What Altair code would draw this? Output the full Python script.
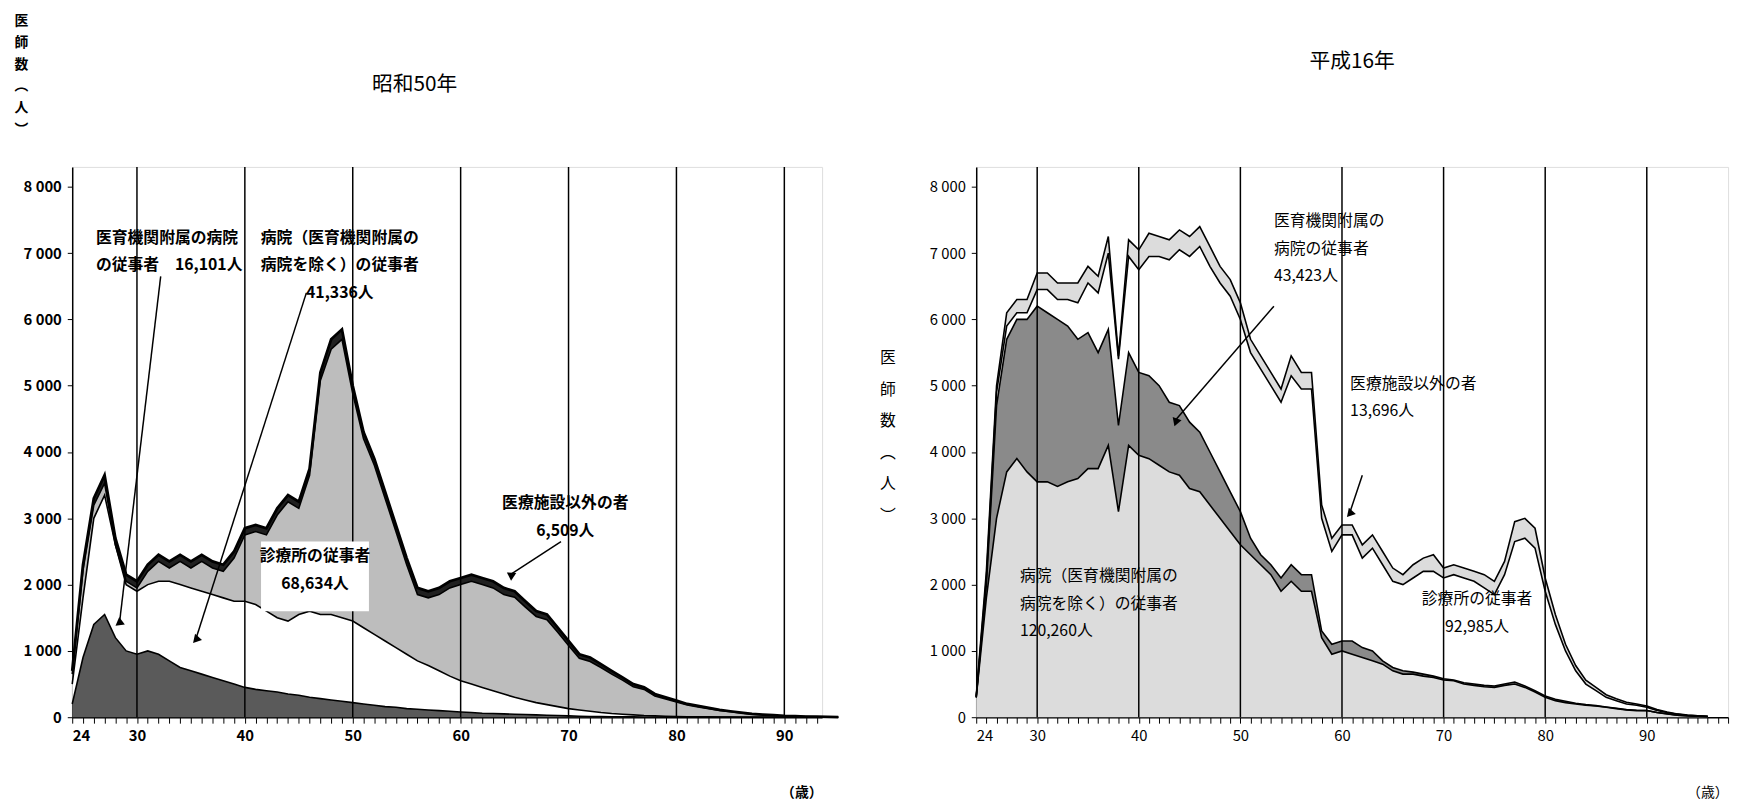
import math
import altair as alt
import pandas as pd

FONT = "Noto Sans CJK JP"

# ---------------- 昭和50年 (ages 24..95) ----------------
L_ages = list(range(24, 96))
L_ikyoku_top = [200,900,1400,1550,1200,1000,950,
    1000,950,850,750,700,650,600,550,500,450,
    420,400,380,350,330,300,280,260,240,220,
    200,180,160,150,130,120,110,100,90,80,
    70,60,55,50,45,40,35,30,25,20,
    15,12,10,8,6,5,4,3,2,2,
    1,1,1,1,1,0,0,0,0,0,0,0,0,0,0]
L_byoin_top = [500,1800,3000,3350,2600,2000,1900,
    2000,2050,2050,2000,1950,1900,1850,1800,1750,1750,
    1700,1600,1500,1450,1550,1600,1550,1550,1500,1450,
    1350,1250,1150,1050,950,850,780,700,620,550,
    500,450,400,350,300,260,220,190,160,130,
    110,90,70,55,45,35,25,20,15,10,
    8,6,5,4,3,2,2,1,1,1,0,0,0,0,0]
L_total = [700,2300,3300,3650,2700,2150,2050,
    2300,2450,2350,2450,2350,2450,2350,2300,2500,2850,
    2900,2850,3150,3350,3250,3750,5200,5700,5850,5000,
    4300,3900,3400,2900,2400,1950,1900,1950,2050,2100,
    2150,2100,2050,1950,1900,1750,1600,1550,1350,1150,
    950,900,800,700,600,500,450,350,300,250,
    200,170,140,110,90,70,50,40,30,20,15,10,8,5,3]
L_igai = [50,80,100,120,100,100,100,
    100,100,100,100,100,100,100,100,100,100,
    100,100,100,100,100,100,120,150,150,120,
    100,100,100,100,100,100,100,100,100,100,
    100,100,100,100,90,90,80,80,70,70,
    60,60,50,50,40,40,30,30,25,20,
    15,15,12,10,8,6,5,4,3,2,2,1,1,0,0]

# ---------------- 平成16年 (ages 24..96) ----------------
R_ages = list(range(24, 97))
R_byoin_top = [300,1800,3000,3700,3900,3700,3550,
    3550,3480,3550,3600,3750,3750,4100,3100,4100,3950,
    3900,3800,3700,3650,3450,3400,3200,3000,2800,2600,
    2450,2300,2150,1900,2050,1900,1900,1200,950,1000,
    950,900,850,800,700,650,650,620,600,560,
    550,500,480,460,450,480,500,450,380,300,
    250,220,200,180,170,150,130,110,100,100,
    70,50,30,20,15,10]
R_ikyoku_top = [300,2000,4700,5700,6000,6000,6200,
    6100,6000,5900,5700,5800,5500,5850,4400,5500,5200,
    5150,5000,4750,4700,4450,4300,4000,3700,3400,3100,
    2700,2450,2300,2100,2300,2150,2150,1300,1100,1150,
    1150,1050,1000,850,750,700,680,650,620,580,
    560,520,500,480,470,500,530,470,400,320,
    270,240,210,190,175,155,135,115,105,102,
    72,52,31,21,15,10]
R_shinryo_top = [300,2100,4900,5900,6100,6100,6450,
    6450,6300,6300,6250,6550,6400,7000,5400,6950,6750,
    6950,6950,6900,7050,6950,7100,6800,6550,6350,6000,
    5500,5250,5000,4750,5150,4950,4950,3000,2500,2750,
    2750,2400,2550,2300,2050,2000,2100,2200,2200,2100,
    2150,2100,2050,1950,1850,2150,2650,2700,2550,1900,
    1400,1000,700,500,400,300,250,200,180,150,
    100,70,45,30,20,12]
R_total = [320,2200,5000,6100,6300,6300,6700,
    6700,6550,6550,6550,6800,6650,7250,5450,7200,7050,
    7300,7250,7200,7350,7250,7400,7100,6800,6600,6250,
    5700,5450,5200,4950,5450,5200,5200,3200,2700,2900,
    2900,2600,2750,2500,2250,2150,2300,2400,2450,2250,
    2300,2250,2200,2150,2050,2350,2950,3000,2850,2100,
    1550,1100,780,560,450,340,280,225,200,170,
    115,80,50,34,23,14]

YMAX = 8300
VERT = ["医", "師", "数", "︵", "人", "︶"]


def make_panel(ages, bounds, fills, xmax, title, title_kw, ytitle_kw, texts, arrows,
               boxes, width, height, topw, bold):
    df = pd.DataFrame({"age": ages})
    for i, b in enumerate(bounds):
        df[f"b{i+1}"] = b
    df["b0"] = 0
    lw = "bold" if bold else "normal"
    xs = alt.Scale(domain=[24, xmax], nice=False, zero=False)
    ys = alt.Scale(domain=[0, YMAX], nice=False)
    xaxis = alt.Axis(values=list(range(24, int(xmax) + 1)),
                     labelExpr="(datum.value == 24 || datum.value % 10 == 0) ? datum.value : ''",
                     grid=False, tickSize=6, tickColor="black", domainColor="black", domainWidth=1.5,
                     labelFont=FONT, labelFontSize=15, labelColor="black", labelFontWeight=lw,
                     labelPadding=6,
                     title="（歳）", titleAnchor="end", titleFont=FONT, titleFontSize=14,
                     titlePadding=42, titleFontWeight=lw, titleColor="black")
    yaxis = alt.Axis(values=list(range(0, 8001, 1000)),
                     labelExpr="replace(format(datum.value, ','), ',', ' ')", grid=False,
                     tickSize=5, tickColor="black", domainColor="black", domainWidth=1.5,
                     labelFont=FONT, labelFontSize=15, labelColor="black", labelFontWeight=lw,
                     labelPadding=6, titleColor="black", **ytitle_kw)

    def X(f):
        return alt.X(f"{f}:Q", scale=xs, axis=xaxis)

    def Y(f):
        return alt.Y(f"{f}:Q", scale=ys, axis=yaxis)

    base = alt.Chart(df)
    layers = []
    for i, col in enumerate(fills):
        layers.append(base.mark_area(color=col, opacity=1).encode(
            x=X("age"), y=Y(f"b{i}"), y2=f"b{i+1}:Q"))
    for i in range(1, len(bounds) + 1):
        sw = topw if i == len(bounds) else 1.6
        layers.append(base.mark_line(color="black", strokeWidth=sw).encode(
            x=X("age"), y=Y(f"b{i}")))
    dec = pd.DataFrame({"age": [a for a in range(30, int(xmax) + 1, 10)]})
    layers.append(alt.Chart(dec).mark_rule(color="black", strokeWidth=1.5).encode(
        x=X("age"), y=alt.value(0), y2=alt.value(height)))
    if boxes:
        bdf = pd.DataFrame(boxes, columns=["x", "x2", "y", "y2"])
        layers.append(alt.Chart(bdf).mark_rect(color="white").encode(
            x=X("x"), x2="x2:Q", y=Y("y"), y2="y2:Q"))
    adf = pd.DataFrame(arrows, columns=["x", "y", "x2", "y2"])
    # arrowhead rotation (pixel space)
    pxx = width / (xmax - 24)
    pxy = height / YMAX
    adf["ang"] = [math.degrees(math.atan2((r.x2 - r.x) * pxx, -(r.y2 - r.y) * pxy)) % 360
                  for r in adf.itertuples()]
    layers.append(alt.Chart(adf).mark_rule(color="black", strokeWidth=1.5).encode(
        x=X("x"), y=Y("y"), x2="x2:Q", y2="y2:Q"))
    layers.append(alt.Chart(adf).mark_point(shape="triangle-up", filled=True, color="black",
                                            size=90, opacity=1).encode(
        x=X("x2"), y=Y("y2"), angle=alt.Angle("ang:Q", scale=None)))
    for (x, y, lines, align) in texts:
        tdf = pd.DataFrame({"x": [x], "y": [y]})
        layers.append(alt.Chart(tdf).mark_text(font=FONT, fontSize=16, align=align, baseline="top",
                                               lineHeight=28, color="black", fontWeight=lw).encode(
            x=X("x"), y=Y("y"), text=alt.value(lines)))
    return alt.layer(*layers).properties(
        width=width, height=height,
        title=alt.TitleParams(title, font=FONT, fontSize=21, fontWeight="normal", **title_kw))


left = make_panel(
    L_ages,
    [L_ikyoku_top, L_byoin_top, [t - g for t, g in zip(L_total, L_igai)], L_total],
    ["#5a5a5a", "#ffffff", "#bdbdbd", "#202020"],
    93.5, "昭和50年", dict(offset=-82, dx=-33),
    dict(title=VERT, titleAngle=0, titleX=-52, titleY=-155,
         titleFont=FONT, titleFontSize=14, titleFontWeight="bold", titleAlign="center",
         titleBaseline="top", titleLineHeight=22),
    [(26.2, 7350, ["医育機関附属の病院", "の従事者　16,101人"], "left"),
     (48.8, 7350, ["病院（医育機関附属の", "病院を除く）の従事者", "41,336人"], "center"),
     (46.5, 2550, ["診療所の従事者", "68,634人"], "center"),
     (69.7, 3350, ["医療施設以外の者", "6,509人"], "center")],
    [(32.2, 6650, 28.4, 1450), (45.7, 6400, 35.5, 1200), (69.3, 2650, 64.6, 2150)],
    [(41.5, 51.5, 1600, 2650)],
    759, 557, 2.8, True)

right = make_panel(
    R_ages,
    [R_byoin_top, R_ikyoku_top, R_shinryo_top, R_total],
    ["#dcdcdc", "#8a8a8a", "#ffffff", "#dcdcdc"],
    98, "平成16年", dict(offset=95),
    dict(title=VERT, titleAngle=0, titleX=-90, titleY=185,
         titleFont=FONT, titleFontSize=16, titleFontWeight="normal", titleAlign="center",
         titleBaseline="top", titleLineHeight=32),
    [(53.3, 7600, ["医育機関附属の", "病院の従事者", "43,423人"], "left"),
     (60.8, 5150, ["医療施設以外の者", "　13,696人"], "left"),
     (73.3, 1900, ["診療所の従事者", "92,985人"], "center"),
     (28.3, 2250, ["病院（医育機関附属の", "病院を除く）の従事者", "120,260人"], "left")],
    [(53.3, 6200, 43.6, 4480), (62.0, 3650, 60.8, 3100)],
    [],
    761, 557, 1.6, False)

chart = alt.hconcat(left, right, spacing=34).configure_view(stroke=None).configure(
    background="white", padding={"left": 5, "top": 0, "right": 5, "bottom": 0})

chart.save("out.html", embed_options={"renderer": "svg", "actions": False})
